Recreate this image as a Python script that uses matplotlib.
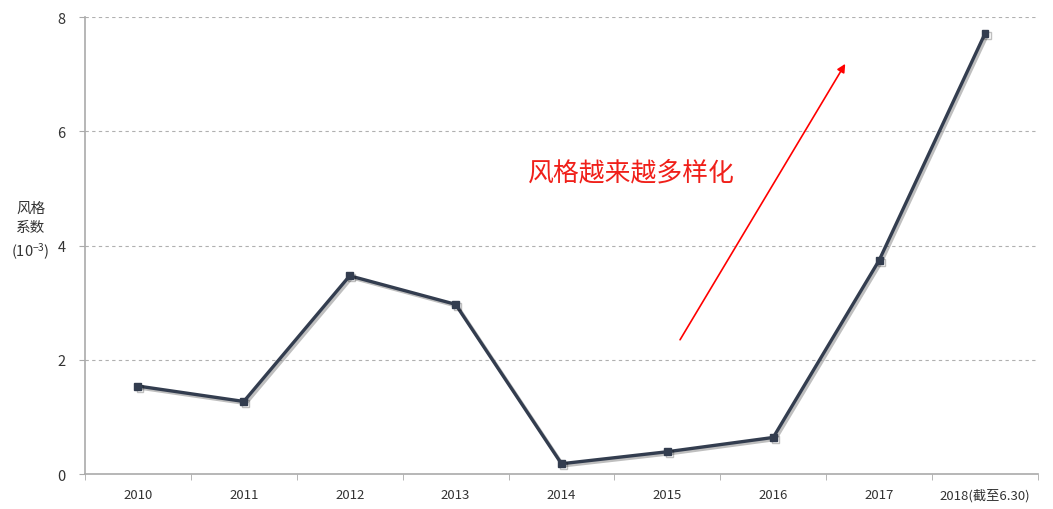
import matplotlib
matplotlib.use("Agg")
import matplotlib.pyplot as plt
import matplotlib.patheffects as pe
import numpy as np

plt.rcParams['font.family'] = ['Noto Sans CJK SC', 'DejaVu Sans']
plt.rcParams['mathtext.default'] = 'regular'

categories = ["2010", "2011", "2012", "2013", "2014", "2015", "2016", "2017", "2018(截至6.30)"]
values = [1.54, 1.27, 3.47, 2.97, 0.18, 0.39, 0.64, 3.74, 7.71]
yticks = [0, 2, 4, 6, 8]

fig = plt.figure(figsize=(10.53, 5.10), dpi=100)
ax = fig.add_axes([0.0807, 0.0686, 0.905, 0.8961])

x = np.arange(len(categories))
ax.plot(x, values, color="#333d4f", lw=2.4, marker="s", markersize=5,
        solid_joinstyle="miter",
        path_effects=[pe.SimpleLineShadow(offset=(1.5, -1.5), alpha=0.25), pe.Normal()])

ax.set_xlim(-0.5, len(categories) - 0.5)
ax.set_ylim(0, 8)
ax.set_yticks(yticks)
ax.set_yticklabels([str(v) for v in yticks])
ax.set_xticks(x)
ax.set_xticklabels(categories)
ax.set_xticks(np.arange(-0.5, len(categories), 1), minor=True)
ax.tick_params(axis='x', which='major', length=0, pad=10, labelsize=9.5, colors="#333333")
ax.tick_params(axis='x', which='minor', length=4, color="#aaaaaa", direction='out')
ax.tick_params(axis='y', length=4, color="#aaaaaa", pad=10, labelsize=10.5, labelcolor="#333333")

for v in yticks[1:]:
    ax.axhline(v, color="#b0b0b0", lw=0.8, ls=(0, (3, 3)), zorder=0)

for s in ["top", "right"]:
    ax.spines[s].set_visible(False)
for s in ["left", "bottom"]:
    ax.spines[s].set_color("#aaaaaa")
    ax.spines[s].set_linewidth(1.2)

fig.text(0.029, 0.545, "风格\n系数\n(10$^{-3}$)", ha="center", va="center",
         fontsize=10.5, color="#333333", linespacing=1.45)

ax.annotate("", xy=(6.68, 7.18), xytext=(5.12, 2.35),
            arrowprops=dict(arrowstyle="-|>", color="#ff0000", lw=1.2,
                            mutation_scale=12, shrinkA=0, shrinkB=0))
ax.text(3.68, 5.29, "风格越来越多样化", color="#f0201a", fontsize=18.6,
        ha="left", va="center")

fig.savefig("out.png", dpi=100)
